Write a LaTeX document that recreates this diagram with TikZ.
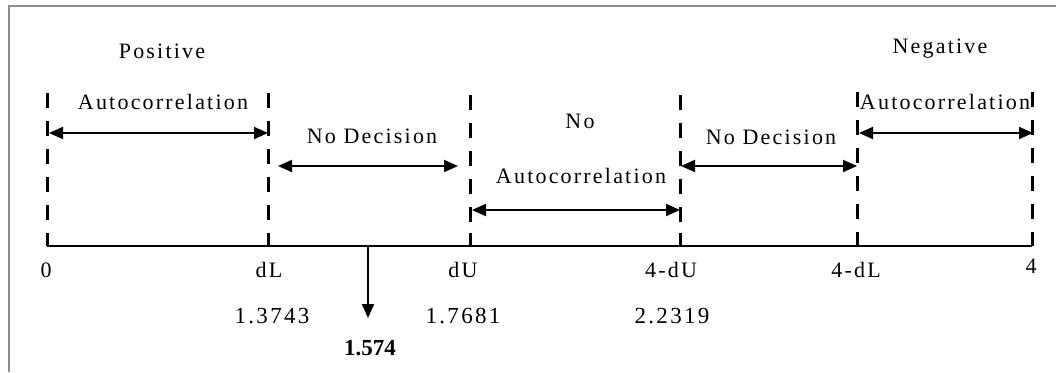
\documentclass[tikz,border=0pt]{standalone}
\usepackage{fontspec}
\setmainfont{Liberation Serif}
\newfontfamily\spc{Liberation Serif}[LetterSpace=10]
\usetikzlibrary{arrows.meta}
\begin{document}
\begin{tikzpicture}[x=1pt,y=-1pt,
  frame/.style={draw=black!45,line width=2pt},
  limit/.style={line width=3pt,dash pattern=on 15pt off 13pt},
  axis/.style={line width=2.5pt},
  tickmark/.style={line width=3pt},
  span/.style={line width=2pt,{Triangle[length=14pt,width=12pt]}-{Triangle[length=14pt,width=12pt]}},
  pointer/.style={line width=2pt,-{Triangle[length=14pt,width=12pt]}},
  lbl/.style={inner sep=0pt,font=\spc\fontsize{22}{24}\selectfont},
  num/.style={inner sep=0pt,font=\spc\fontsize{23}{25}\selectfont},
  stat/.style={inner sep=0pt,font=\bfseries\fontsize{23}{25}\selectfont}]
\useasboundingbox (0,0) rectangle (1056,372);
\fill[white] (0,0) rectangle (1056,372);
% frame edges
\draw[frame] (1056,6) -- (9,6) -- (9,372);

% points on the scale
\coordinate (a0) at (47,246);
\coordinate (a1) at (268,246);
\coordinate (a2) at (470,246);
\coordinate (a3) at (680,246);
\coordinate (a4) at (857,246);
\coordinate (a5) at (1032,246);
\foreach \i/\top in {0/93,1/93,2/95,3/95,4/92,5/92}{
  \draw[limit] (a\i |- 0,\top) -- (a\i);
  \draw[tickmark] (a\i) -- ++(0,-13);
}
\draw[axis] (a0) -- (a5);

% region spans
\coordinate (p1) at (49,133);   \coordinate (p2) at (268,133);
\coordinate (q1) at (278,166);  \coordinate (q2) at (458,166);
\coordinate (r1) at (472,210);  \coordinate (r2) at (680,210);
\coordinate (s1) at (681,166);  \coordinate (s2) at (857,166);
\coordinate (u1) at (859,133);  \coordinate (u2) at (1033,133);
\draw[span] (p1) -- (p2);
\draw[span] (q1) -- (q2);
\draw[span] (r1) -- (r2);
\draw[span] (s1) -- (s2);
\draw[span] (u1) -- (u2);

% region captions
\node[lbl] (pos1) at (162,51) {Positive};
\node[lbl] (pos2) at (163,102) {Autocorrelation};
\node[lbl] (nd1) at (372,136) {No Decision};
\node[lbl] (na1) at (580,121) {No};
\node[lbl] (na2) at (581,176) {Autocorrelation};
\node[lbl] (nd2) at (771,137) {No Decision};
\node[lbl] (neg1) at (940,49) {Negative};
\node[lbl] (neg2) at (945,102) {Autocorrelation};

% scale labels
\node[lbl] (l0) at (46,270) {0};
\node[lbl] (l1) at (269,270) {dL};
\node[lbl] (l2) at (463,270) {dU};
\node[lbl] (l3) at (671,270) {4-dU};
\node[lbl] (l4) at (856,270) {4-dL};
\node[lbl] (l5) at (1031,266) {4};
\node[num] (v1) at (272,316) {1.3743};
\node[num] (v2) at (463,316) {1.7681};
\node[num] (v3) at (672,316) {2.2319};

% computed statistic
\coordinate (d0) at (368,246);
\coordinate (d1) at (368,318);
\draw[pointer] (d0) -- (d1);
\node[stat] (dw) at (370,348) {1.574};
\end{tikzpicture}
\end{document}
